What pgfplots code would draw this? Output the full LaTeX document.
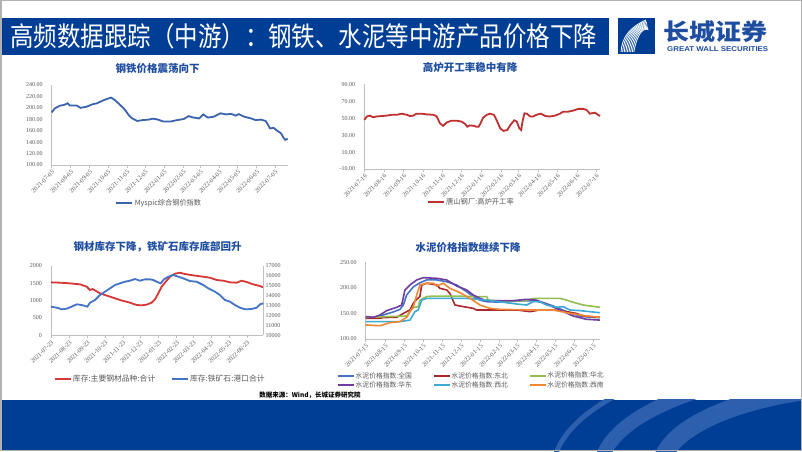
\documentclass[border=0pt]{standalone}
\usepackage{pgfplots}
\pgfplotsset{compat=1.18}
\usepackage{pgfplotstable}
\usepackage{graphicx}
\usepackage{fontspec}
\setmainfont{Liberation Serif}
\newfontfamily\cjk{Noto Sans CJK SC}
\newfontfamily\sansb{Liberation Sans}
\definecolor{hdrblue}{RGB}{0,62,150}
\definecolor{stripe}{RGB}{45,95,175}
\definecolor{titleblue}{RGB}{31,78,160}
\definecolor{tickgray}{RGB}{89,89,89}
\definecolor{axgray}{RGB}{191,191,191}
\definecolor{cblue}{RGB}{59,100,173}
\definecolor{cred}{RGB}{192,48,48}
\definecolor{sred}{RGB}{214,55,55}
\definecolor{sblue}{RGB}{68,114,196}
\definecolor{qg}{RGB}{68,114,196}
\definecolor{db}{RGB}{170,40,45}
\definecolor{hb}{RGB}{146,190,80}
\definecolor{hd}{RGB}{112,60,160}
\definecolor{xb}{RGB}{60,170,210}
\definecolor{xn}{RGB}{240,135,50}

\pgfplotstableread{
d v
0 192
5 199
10 202
14 204
20 205
26 208
30 204
41 204
47 200
57 202
66 206
74 208
82 212
90 215.5
97 218
104 213
109 208
118 199
126 187.5
131 182
140 177
148 178.5
159 179.5
165 181
172 180
183 176
194 176
205 178.5
216 180.5
224 185.5
232 183
241 181.5
248 188.5
255 183
265 184.5
276 190.5
285 188.5
293 189.5
301 186.5
306 189
315 184.5
326 181.5
334 178.5
342 179.5
350 177
354 170
357 164
363 165
368 160.5
375 155.5
379 148
382 144
386 146
}\steel

\pgfplotstableread{
d v
0 48
4 52
9 53
14 51
19 52
27 52.5
35 53
43 54
51 54
59 55.3
67 54
72 52.5
77 53
82 55.3
90 55.3
98 54.5
109 54
114 52
119 44
124 41
130 45
137 47
145 47
153 46
159 43
162 40
166 41.5
172 41
176 40
180 40
183 44
187 50.6
193 54
198 55.3
204 54
208 48
214 38
219 35
225 36
230 42
236 47.5
240 46
244 38
247 36
249 46
252 55.7
256 55.3
261 52
266 52
271 54
278 55.3
285 52.5
292 52
300 53
308 55.3
313 57.7
321 57.7
329 59
337 61
345 61
350 59.7
355 55.3
363 56.5
371 52.5
}\furnace

\pgfplotstableread{
d v
0 1522
15.4 1512
32.5 1493
49.6 1464
61 1397
66.7 1301
71.2 1330
83.8 1206
100.9 1110
118 1014
135 938
146.4 871
155 861
163.5 880
172 938
177.8 1033
183.5 1206
189.2 1397
197.7 1569
204.6 1703
212 1770
220.5 1799
229 1761
243.3 1722
260.4 1684
271.8 1655
283.2 1589
294.6 1569
306 1522
317.4 1512
325.9 1569
334.5 1531
345.9 1464
357.3 1416
363 1378
}\steelinv

\pgfplotstableread{
d v
0 12880
9.7 12780
18.2 12612
26.8 12679
35.3 12880
43.9 13115
52.4 13048
62.1 12880
66.7 13282
75.2 13550
83.8 14053
92.3 14388
100.9 14722
109.4 15057
118 15225
126.5 15392
135 15493
143.6 15660
152.1 15493
160.7 15627
169.2 15627
174.9 15560
180.6 15392
187.5 15225
193.2 15627
200.6 15895
209.1 16062
217.7 15895
226.2 15727
237.6 15459
249 15392
260.4 15057
269 14722
280.3 14388
288.9 14053
297.4 13550
306 13383
314.5 13048
323.1 12780
331.6 12612
343 12646
351.6 12780
357.3 13115
363 13216
}\oreinv

\pgfplotstableread{
d v
0 142.4
17.6 142.4
28.3 147
44.4 153
55 158
60.4 166.5
65.7 186
76.4 202
87 210
97.8 215.5
113.8 215.5
129.9 212
145.9 205.7
162 192.6
172.6 183
183.3 176
194 173
215.4 172
247.5 174.4
268.8 175
284.9 171
300.9 164.6
322.3 153.5
343.7 145
359.7 142.4
375.7 141.8
}\cqg

\pgfplotstableread{
d v
0 140.5
23 140.5
28.3 142
49.7 142.4
60.4 150
71 156.8
76.4 170
81.8 177.6
87 183
89.8 205.7
97.8 209
113.8 205.7
119.2 199
129.9 196
135.2 189
143.2 166.5
156.6 163.3
172.6 160
178 156.8
194 156.8
242 156.8
263.5 153.5
279.5 156.8
300.9 156.8
322.3 153.5
338.3 150
349 145
375.7 142.4
}\cdb

\pgfplotstableread{
d v
0 142.4
65.7 145
71 153.5
76.4 162
84.4 163
87 176
97.8 183
108.5 184
140.6 184
172.6 183
194 183
196.7 176
215.4 174.4
258 175
268.8 179.6
311.6 179.6
322.3 176
338.3 170
349 166.5
375.7 162
}\chb

\pgfplotstableread{
d v
0 143.7
12.3 142.4
23 147
33.7 155.5
49.7 162
57.7 166.5
63 196
71 205.7
81.8 215.5
92.5 220
113.8 218.7
129.9 215.5
145.9 203.7
162 196
172.6 186
183.3 179.6
194 175
236.8 175
258 177.6
274.2 176
290.2 168.5
311.6 156.8
333 145
354.4 138.5
375.7 137
}\chd

\pgfplotstableread{
d v
0 134
55 134
71 137
79 153.5
84.4 156.8
89.8 176
97.8 179.6
162 179.6
194 176
226 171
242 168.5
258 166.5
268.8 173
279.5 173
290.2 166.5
306.2 162
317 163.3
327.6 156.8
343.7 155.5
359.7 153.5
375.7 151.5
}\cxb

\pgfplotstableread{
d v
0 127.4
23 126
39 132
55 134
65.7 142.4
71 153.5
76.4 163
81.8 186
87 205.7
97.8 209
108.5 209
113.8 203.7
124.5 209
135.2 199
151.3 190.7
167.3 179.6
183.3 166.5
199.4 160
215.4 158
268.8 156.8
300.9 156.8
322.3 151.5
354.4 145
375.7 142.4
}\cxn

\pgfplotsset{
  slide/.style={
    scale only axis, anchor=south west,
    axis x line=bottom, axis y line=left,
    axis line style={draw=axgray,-, line width=0.6pt},
    xtick style={draw=axgray, line width=0.5pt},
    ytick style={draw=none},
    major tick length=3pt, tick align=outside,
    scaled ticks=false,
    /pgf/number format/assume math mode=true,
    ticklabel style={text=tickgray},
    xticklabel style={rotate=45, anchor=north east, font=\fontsize{6.3}{6.3}\selectfont, inner sep=1pt},
    yticklabel style={font=\fontsize{6}{6}\selectfont, inner sep=1pt, xshift=-5pt},
    legend style={draw=none, fill=none, inner sep=0pt, text=tickgray,
      font=\cjk\fontsize{7.3}{7.3}\selectfont, nodes={inner sep=1.5pt}},
    legend image code/.code={\draw[#1] (0pt,0pt) -- (16pt,0pt);},
    clip=false,
  },
  dec2/.style={yticklabel style={/pgf/number format/.cd, fixed, fixed zerofill, precision=2}},
}

\begin{document}
\begin{tikzpicture}[x=1pt,y=1pt]
\path[use as bounding box] (0,0) rectangle (802,451);
\fill[white] (0,0) rectangle (802,451);

% header
\fill[hdrblue] (2,396) rectangle (609,433);
\node[anchor=west, text=white, inner sep=0pt] at (10,414.5)
  {\resizebox{587pt}{\height}{\cjk\fontsize{27}{27}\selectfont 高频数据跟踪（中游）：钢铁、水泥等中游产品价格下降}};
% logo
\fill[hdrblue] (618,397) rectangle (655,433);
\begin{scope}
\clip (619,398) rectangle (654,432);
\foreach \i in {0,...,8}
  \draw[white, line width=0.8pt] (621+\i*1.6, 399) .. controls (622+\i*1.8, 414) and (630+\i*1.5, 424) .. (646+\i*0.3, 431-\i*1.2);
\end{scope}
\node[anchor=west, text=titleblue, inner sep=0pt] at (663,419)
  {\resizebox{104pt}{\height}{\cjk\bfseries\fontsize{23}{23}\selectfont 长城证券}};
\node[anchor=west, text=titleblue, inner sep=0pt] at (667,401.5)
  {\resizebox{101pt}{\height}{\sansb\bfseries\fontsize{7}{7}\selectfont GREAT WALL SECURITIES}};

% bottom band
\fill[hdrblue] (0,0) rectangle (802,51.5);
\begin{scope}
\clip (0,0) rectangle (802,51.5);
\draw[stripe, line width=5pt] (880,-20) ellipse [x radius=327, y radius=128];
\draw[stripe, line width=14pt] (880,-20) ellipse [x radius=280, y radius=105];
\draw[stripe, line width=18pt] (880,-20) ellipse [x radius=220, y radius=85];
\end{scope}

% titles
\node[text=titleblue, inner sep=0pt] at (157.5,382) {\cjk\bfseries\fontsize{10.5}{10.5}\selectfont 钢铁价格震荡向下};
\node[text=titleblue, inner sep=0pt] at (470,383.3) {\cjk\bfseries\fontsize{10.5}{10.5}\selectfont 高炉开工率稳中有降};
\node[text=titleblue, inner sep=0pt] at (157.5,204.3) {\cjk\bfseries\fontsize{10.5}{10.5}\selectfont 钢材库存下降，铁矿石库存底部回升};
\node[text=titleblue, inner sep=0pt] at (468,203.7) {\cjk\bfseries\fontsize{10.5}{10.5}\selectfont 水泥价格指数继续下降};
\node[inner sep=0pt] at (310,56.3) {\cjk\bfseries\fontsize{6.5}{6.5}\selectfont 数据来源：Wind，长城证券研究院};

% chart 1
\begin{axis}[slide, dec2, at={(51.7pt,286pt)}, width=236pt, height=80pt,
  xmin=0, xmax=386, ymin=100, ymax=240, ytick={100,120,...,240},
  xtick={0,31,62,92,123,153,184,215,243,274,304,335,365},
  xticklabels={2021-07-05,2021-08-05,2021-09-05,2021-10-05,2021-11-05,2021-12-05,2022-01-05,2022-02-05,2022-03-05,2022-04-05,2022-05-05,2022-06-05,2022-07-05},
  legend style={at={(0.455,-0.479)}, anchor=center, font=\cjk\fontsize{7.2}{7.2}\selectfont}]
\addplot[cblue, line width=1.8pt] table[x=d,y=v] {\steel};
\addlegendentry{Myspic综合钢价指数}
\end{axis}

% chart 2
\begin{axis}[slide, dec2, at={(364.3pt,282pt)}, width=235.7pt, height=84.7pt,
  xmin=0, xmax=371, ymin=-10, ymax=90, ytick={-10,10,...,90},
  xtick={0,31,62,92,123,153,184,215,243,274,304,335,365},
  xticklabels={2021-07-16,2021-08-16,2021-09-16,2021-10-16,2021-11-16,2021-12-16,2022-01-16,2022-02-16,2022-03-16,2022-04-16,2022-05-16,2022-06-16,2022-07-16},
  legend style={at={(0.453,-0.393)}, anchor=center}]
\addplot[cred, line width=1.8pt] table[x=d,y=v] {\furnace};
\addlegendentry{唐山钢厂:高炉开工率}
\end{axis}

% chart 3
\begin{axis}[slide, at={(51pt,115.7pt)}, width=212.3pt, height=69.6pt,
  xmin=0, xmax=363, ymin=0, ymax=2000, ytick={0,500,...,2000},
  yticklabel style={/pgf/number format/set thousands separator={}},
  xtick={0,31,62,92,123,153,184,215,243,274,304,335},
  xticklabels={2021-07-23,2021-08-23,2021-09-23,2021-10-23,2021-11-23,2021-12-23,2022-01-23,2022-02-23,2022-03-23,2022-04-23,2022-05-23,2022-06-23},
  legend columns=2,
  legend style={at={(0.513,-0.628)}, anchor=center, font=\cjk\fontsize{7.8}{7.8}\selectfont,
    /tikz/every even column/.append style={column sep=14pt}}]
\addplot[sred, line width=1.8pt] table[x=d,y=v] {\steelinv};
\addlegendentry{库存:主要钢材品种:合计}
\addlegendimage{sblue, line width=1.8pt}
\addlegendentry{库存:铁矿石:港口合计}
\end{axis}
\begin{axis}[slide, at={(51pt,115.7pt)}, width=212.3pt, height=69.6pt,
  axis x line=none, axis y line*=right,
  xmin=0, xmax=363, ymin=10000, ymax=17000, ytick={10000,11000,...,17000},
  yticklabel style={/pgf/number format/set thousands separator={}, xshift=3pt}]
\addplot[sblue, line width=1.8pt] table[x=d,y=v] {\oreinv};
\end{axis}

% chart 4
\begin{axis}[slide, dec2, at={(365.7pt,112pt)}, width=234.3pt, height=76.7pt,
  xmin=0, xmax=376, ymin=100, ymax=250, ytick={100,150,...,250},
  xtick={0,31,62,92,123,153,184,215,243,274,304,335,365},
  xticklabels={2021-07-15,2021-08-15,2021-09-15,2021-10-15,2021-11-15,2021-12-15,2022-01-15,2022-02-15,2022-03-15,2022-04-15,2022-05-15,2022-06-15,2022-07-15},
  legend columns=3,
  legend style={at={(0.449,-0.541)}, anchor=center, font=\cjk\fontsize{6.8}{6.8}\selectfont,
    nodes={inner sep=1pt}, /tikz/every even column/.append style={column sep=20pt}}]
\addplot[qg, line width=1.6pt] table[x=d,y=v] {\cqg};
\addlegendentry{水泥价格指数:全国}
\addplot[db, line width=1.6pt] table[x=d,y=v] {\cdb};
\addlegendentry{水泥价格指数:东北}
\addplot[hb, line width=1.6pt] table[x=d,y=v] {\chb};
\addlegendentry{水泥价格指数:华北}
\addplot[hd, line width=1.6pt] table[x=d,y=v] {\chd};
\addlegendentry{水泥价格指数:华东}
\addplot[xb, line width=1.6pt] table[x=d,y=v] {\cxb};
\addlegendentry{水泥价格指数:西北}
\addplot[xn, line width=1.6pt] table[x=d,y=v] {\cxn};
\addlegendentry{水泥价格指数:西南}
\end{axis}

\draw[gray!60, line width=1.5pt] (0.75,0.75) rectangle (801.25,450.25);
\end{tikzpicture}
\end{document}
